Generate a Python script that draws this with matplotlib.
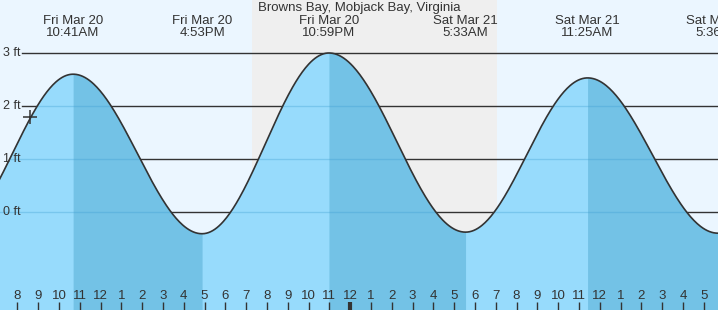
import numpy as np
import matplotlib
matplotlib.use("Agg")
import matplotlib.pyplot as plt
from matplotlib.transforms import blended_transform_factory

# ---- data ------------------------------------------------------------------
title = "Browns Bay, Mobjack Bay, Virginia"
# tide extremes, hours since Fri Mar 20 00:00 (first and last are off-chart estimates)
tide_hours = [4.9, 10.683, 16.883, 22.983, 29.55, 35.417, 41.69, 47.8]
tide_heights = [-0.35, 2.60, -0.41, 3.00, -0.38, 2.53, -0.40, 2.50]
tide_labels = ["", "Fri Mar 20\n10:41AM", "Fri Mar 20\n4:53PM", "Fri Mar 20\n10:59PM",
               "Sat Mar 21\n5:33AM", "Sat Mar 21\n11:25AM", "Sat Mar 21\n5:36PM", ""]
night_start, night_end = 19.28, 31.06      # sunset Fri / sunrise Sat
now_hour, now_height = 8.61, 1.79          # "+" marker
y_ticks = [0, 1, 2, 3]
y_labels = ["0 ft", "1 ft", "2 ft", "3 ft"]
hour_ticks = list(range(8, 42))

# ---- style -------------------------------------------------------------------
bg = "#ebf6ff"
night = "#efefef"
rising = "#97dbfc"
falling = "#73c2e6"
ink = "#333333"
plt.rcParams["font.family"] = ["Liberation Sans", "DejaVu Sans"]

fig = plt.figure(figsize=(7.18, 3.10), dpi=100)
ax = fig.add_axes([0, 0, 1, 1])
px_hr = 20.8                       # pixels per hour
x0, x1 = 7.168, 7.168 + 718 / px_hr
y0, y1 = -(310 - 212) / 53, 4.0
ax.set_xlim(x0, x1)
ax.set_ylim(y0, y1)
ax.axis("off")
ax.add_patch(plt.Rectangle((x0, y0), x1 - x0, y1 - y0, facecolor=bg, lw=0, zorder=0))
ax.axvspan(night_start, night_end, color=night, zorder=0.5, lw=0)

# gridlines (dark, underneath the water)
grid_left = x0 + 22 / px_hr
for yv, lab in zip(y_ticks, y_labels):
    ax.plot([grid_left, x1], [yv, yv], color=ink, lw=1.0, zorder=1)
    ax.text(x0 + 3 / px_hr, yv, lab, ha="left", va="center", fontsize=9,
            color=ink, zorder=6)

# tide curve: cosine between successive extremes
segs = []
for i in range(len(tide_hours) - 1):
    ta, tb = tide_hours[i], tide_hours[i + 1]
    ha, hb = tide_heights[i], tide_heights[i + 1]
    t = np.linspace(ta, tb, 120)
    h = (ha + hb) / 2 + (ha - hb) / 2 * np.cos(np.pi * (t - ta) / (tb - ta))
    segs.append((t, h, hb < ha))
t_all = np.concatenate([s[0] for s in segs])
h_all = np.concatenate([s[1] for s in segs])
water = ax.fill_between(t_all, y0, h_all, color=rising, lw=0, zorder=2)
for t, h, falling_seg in segs:
    if falling_seg:
        ax.fill_between(t, y0, h, color=falling, lw=0, zorder=2.1)
for yv in y_ticks:
    ln, = ax.plot([x0, x1], [yv, yv], color="#3f9fd2", lw=1.0, alpha=0.35, zorder=3)
    ln.set_clip_path(water.get_paths()[0], ax.transData)
ax.plot(t_all, h_all, color=ink, lw=1.2, zorder=4)

ax.plot(now_hour, now_height, marker="+", ms=10, mew=1.1, color=ink, zorder=5)

# labels at the top
top = blended_transform_factory(ax.transData, ax.transAxes)
for th, lab in zip(tide_hours, tide_labels):
    if lab:
        ax.text(th, 1 - 27 / 310, lab, transform=top, ha="center", va="center",
                fontsize=9.5, color=ink, linespacing=0.95, zorder=6)
fig.text(0.5, 1 - 8 / 310, title, ha="center", va="center", fontsize=9.5, color=ink)

# hour ticks along the bottom
for hr in hour_ticks:
    lab = str((hr - 1) % 12 + 1)
    ax.text(hr, 1 - 296 / 310, lab, transform=top, ha="center", va="center",
            fontsize=9.5, color=ink, zorder=6)
    ax.plot([hr, hr], [0, 8 / 310], transform=top, color=ink,
            lw=3 if hr % 24 == 0 else 1, zorder=6, solid_capstyle="butt")

fig.savefig("out.png", dpi=100)
